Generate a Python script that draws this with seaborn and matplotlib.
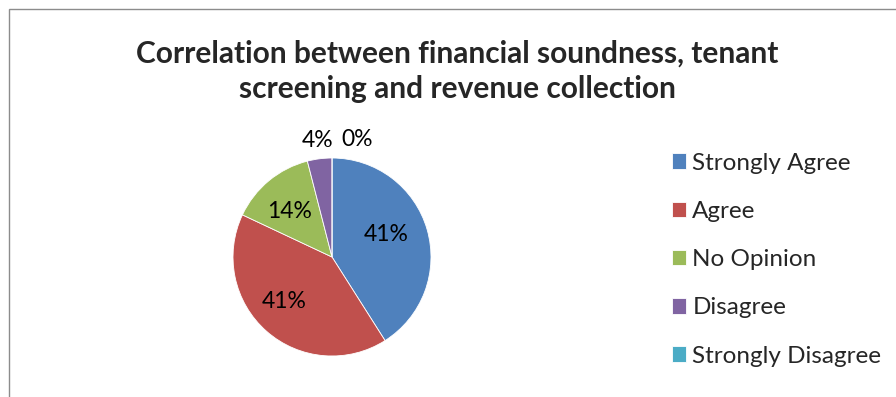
import matplotlib
matplotlib.use("Agg")
import matplotlib.pyplot as plt
import seaborn as sns
import numpy as np
from matplotlib.patches import Rectangle

categories = ["Strongly Agree", "Agree", "No Opinion", "Disagree", "Strongly Disagree"]
shares = [41, 41, 14, 4, 0]
colors = ["#4F81BD", "#C0504D", "#9BBB59", "#8064A2", "#4BACC6"]
title = "Correlation between financial soundness, tenant\nscreening and revenue collection"

sns.set_theme(style="white")
palette = sns.color_palette(colors)
plt.rcParams["font.family"] = ["Lato", "DejaVu Sans"]

W, H = 896, 397
fig = plt.figure(figsize=(W / 100, H / 100), dpi=100)
fig.patch.set_facecolor("white")

# chart frame (left and top edges visible)
fig.patches.append(Rectangle((9 / W, -0.2), 1.2, (H - 9) / H + 0.2,
                             transform=fig.transFigure, fill=False,
                             edgecolor="#8c8c8c", linewidth=1.0))

# pie axes: centre (332, 257) px, radius 99 px
cx, cy, r = 332, 257, 99
ax = fig.add_axes([(cx - r) / W, (H - cy - r) / H, 2 * r / W, 2 * r / H])
wedges, _ = ax.pie(shares, colors=palette, startangle=90, counterclock=False,
                   radius=1.0, wedgeprops=dict(edgecolor="white", linewidth=0.6))
ax.set_xlim(-1, 1)
ax.set_ylim(-1, 1)
ax.set_aspect("equal")
ax.axis("off")

# data labels: inside for large wedges, above the pie for small ones
inner_nudge = [(-2, 4), (-6, 0), (-3, 0)]
k = 0
for w, v in zip(wedges, shares):
    mid = np.deg2rad((w.theta1 + w.theta2) / 2)
    if v >= 10:
        d = 0.6
        x, y = d * np.cos(mid), d * np.sin(mid)
        ax.annotate(f"{v}%", (x, y), xytext=inner_nudge[k], textcoords="offset points",
                    ha="center", va="center", fontsize=16.5, color="black")
        k += 1
    else:
        d = 1.2
        x, y = d * np.cos(mid), d * np.sin(mid)
        dx = 0 if v > 0 else 18
        ax.annotate(f"{v}%", (x, y), xytext=(dx, -1), textcoords="offset points",
                    ha="center", va="center", fontsize=16.5, color="black",
                    annotation_clip=False)

fig.text(457 / W, 1 - 71 / H, title, ha="center", va="center",
         fontsize=21.5, fontweight="bold", linespacing=1.32)

fig.legend(wedges, categories, loc="upper left",
           bbox_to_anchor=(662 / W, 1 - 143 / H), frameon=False,
           fontsize=17.5, handlelength=0.6, handleheight=0.6,
           handletextpad=0.25, labelspacing=1.12, borderaxespad=0)

fig.savefig("out.png", dpi=100, facecolor="white")
